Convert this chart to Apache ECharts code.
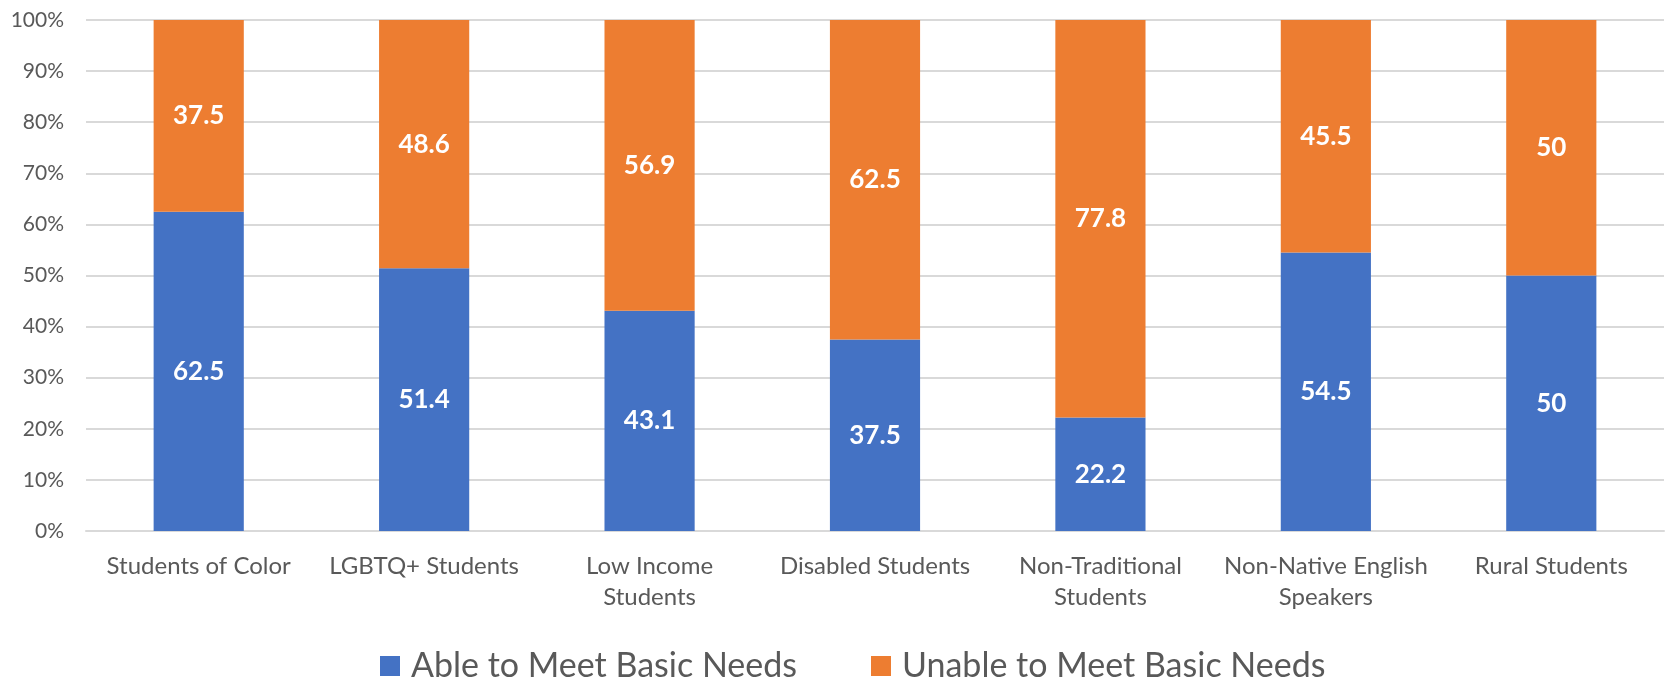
<!DOCTYPE html>
<html>
<head>
<meta charset="utf-8">
<script src="https://cdn.jsdelivr.net/npm/echarts@6/dist/echarts.min.js"></script>
<style>
  html, body { margin: 0; padding: 0; background: #ffffff; }
  #chart { width: 1666px; height: 678px; }
</style>
</head>
<body>
<div id="chart"></div>
<script>
// Student groups on the x axis
const categories = [
  'Students of Color',
  'LGBTQ+ Students',
  'Low Income\nStudents',
  'Disabled Students',
  'Non-Traditional\nStudents',
  'Non-Native English\nSpeakers',
  'Rural Students'
];

// Share of each group (percent)
const ableValues = [62.5, 51.4, 43.1, 37.5, 22.2, 54.5, 50];
const unableValues = [37.5, 48.6, 56.9, 62.5, 77.8, 45.5, 50];

const seriesNames = ['Able to Meet Basic Needs', 'Unable to Meet Basic Needs'];
const seriesColors = ['#4472C4', '#ED7D31'];

const textColor = '#595959';
const fontFamily = 'Lato, "Open Sans", sans-serif';

const chart = echarts.init(document.getElementById('chart'), null, { renderer: 'canvas' });

const valueLabel = {
  show: true,
  position: 'inside',
  color: '#ffffff',
  fontFamily: fontFamily,
  fontWeight: 'bold',
  fontSize: 26
};

chart.setOption({
  animation: false,
  backgroundColor: '#ffffff',
  grid: { left: 86, right: 2, top: 20, bottom: 147, containLabel: false },
  legend: {
    left: 375,
    top: 644,
    itemWidth: 20,
    itemHeight: 20,
    itemGap: 74,
    icon: 'rect',
    textStyle: { color: textColor, fontFamily: fontFamily, fontSize: 34, padding: [0, 0, 0, 6] },
    data: seriesNames
  },
  xAxis: {
    type: 'category',
    data: categories,
    axisLine: { show: true, lineStyle: { color: '#d9d9d9', width: 2 } },
    axisTick: { show: false },
    axisLabel: {
      color: textColor,
      fontFamily: fontFamily,
      fontSize: 24,
      lineHeight: 31,
      margin: 20,
      interval: 0
    }
  },
  yAxis: {
    type: 'value',
    min: 0,
    max: 100,
    interval: 10,
    axisLine: { show: false },
    axisTick: { show: false },
    splitLine: { lineStyle: { color: '#d9d9d9', width: 2 } },
    axisLabel: {
      formatter: '{value}%',
      color: textColor,
      fontFamily: fontFamily,
      fontSize: 21,
      margin: 22
    }
  },
  series: [
    {
      name: seriesNames[0],
      type: 'bar',
      stack: 'total',
      data: ableValues,
      barWidth: '40%',
      itemStyle: { color: seriesColors[0] },
      label: valueLabel
    },
    {
      name: seriesNames[1],
      type: 'bar',
      stack: 'total',
      data: unableValues,
      barWidth: '40%',
      itemStyle: { color: seriesColors[1] },
      label: valueLabel
    }
  ]
});
</script>
</body>
</html>
